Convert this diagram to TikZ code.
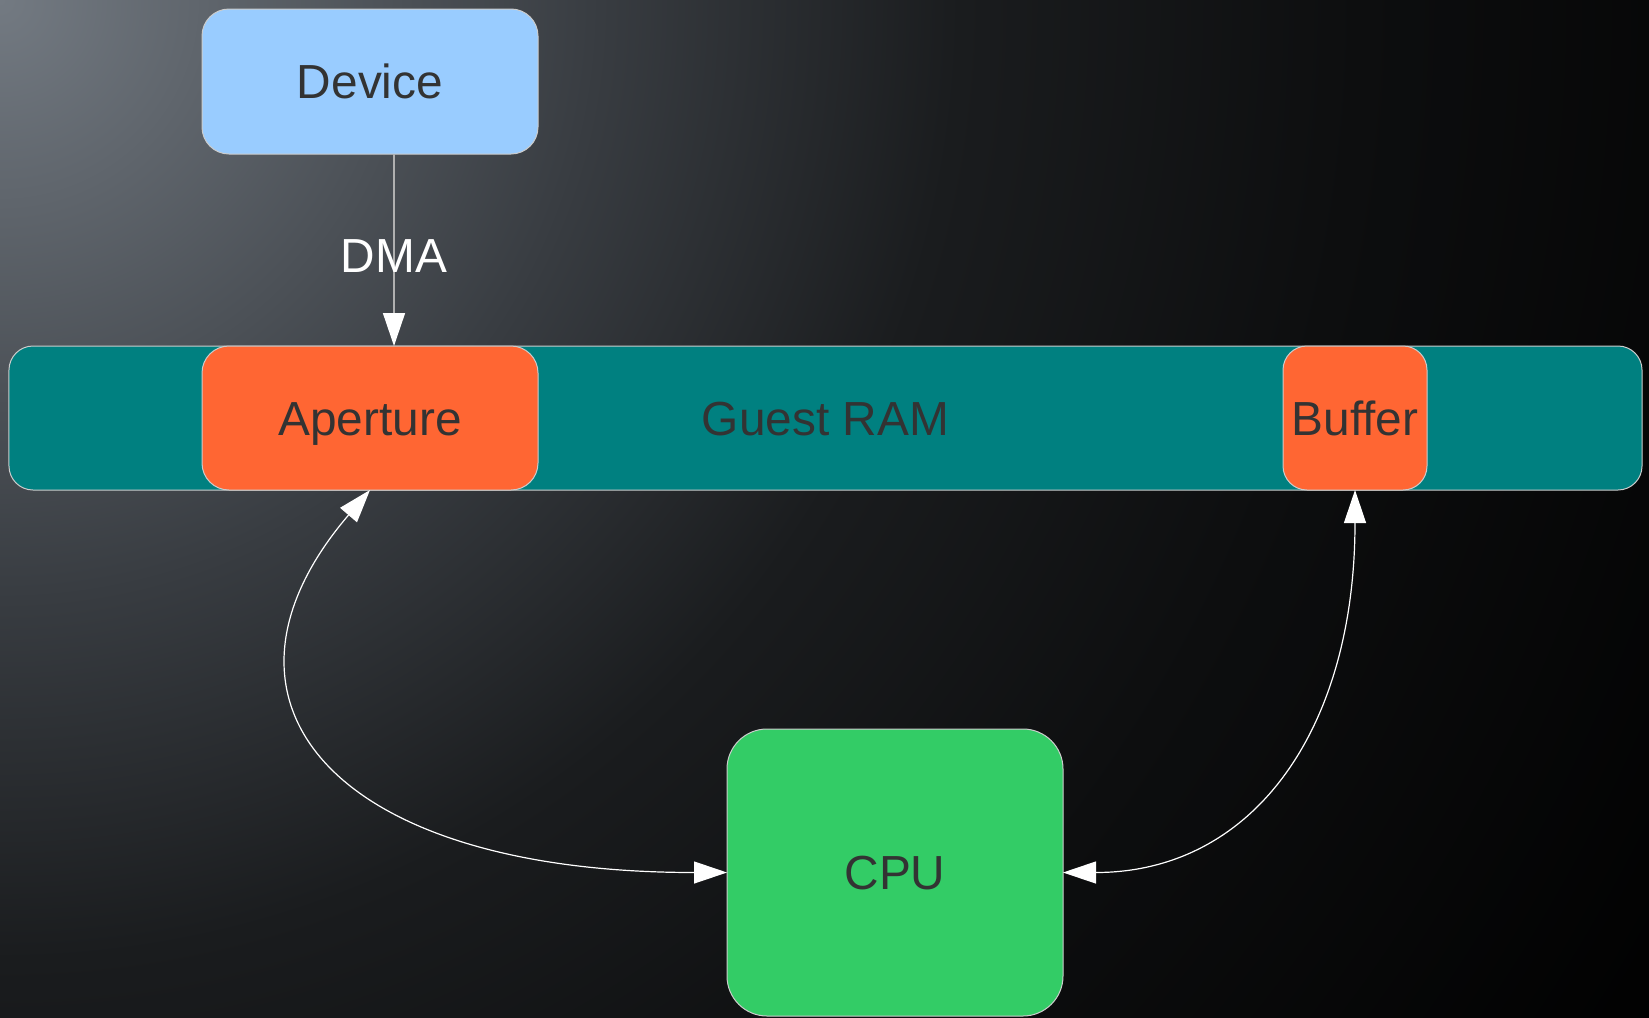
\documentclass[tikz,border=0pt]{standalone}
\usepackage{fontspec}
\setmainfont{Liberation Sans}
\usetikzlibrary{arrows.meta}
\definecolor{bgA}{HTML}{737A82}
\definecolor{bgB}{HTML}{383C41}
\definecolor{bgC}{HTML}{1A1C1E}
\definecolor{bgD}{HTML}{0D0E0F}
\definecolor{devblue}{HTML}{99CCFF}
\definecolor{orangebox}{HTML}{FF6633}
\definecolor{ramteal}{HTML}{008080}
\definecolor{cpugreen}{HTML}{33CC66}
\definecolor{textgray}{HTML}{333333}
\definecolor{bordergray}{HTML}{CCCCCC}
\definecolor{dmagray}{HTML}{B0B0B0}
\pgfdeclareradialshading{bgshade}{\pgfpointorigin}{color(0bp)=(bgA); color(7.5bp)=(bgB); color(12bp)=(bgC); color(17bp)=(bgD); color(25bp)=(black); color(50bp)=(black)}
\begin{document}
\begin{tikzpicture}[x=1bp,y=-1bp,
  box/.style={draw=bordergray, line width=1bp, inner sep=0pt, outer sep=0pt,
    font=\fontsize{48}{58}\selectfont, text=textgray, text height=34bp, text depth=0pt},
  conn/.style={draw=white, line width=1.2bp, {Triangle[length=33bp,width=22bp,color=white,fill=white]}-{Triangle[length=33bp,width=22bp,color=white,fill=white]}},
  dmaline/.style={draw=dmagray, line width=1.5bp, -{Triangle[length=33bp,width=22bp,color=white,fill=white]}},
  lbl/.style={font=\fontsize{48}{58}\selectfont, text=white, inner sep=0pt, text height=34bp, text depth=0pt}]
\useasboundingbox (0,0) rectangle (1649,1017);
\begin{scope}
  \clip (0,0) rectangle (1649,1017);
  \shade[shading=bgshade] (-2000,-2000) rectangle (2000,2000);
\end{scope}
\node[box, fill=ramteal, minimum width=1633bp, minimum height=144bp, rounded corners=24bp] (ram) at (825.5,418) {Guest RAM};
\node[box, fill=orangebox, minimum width=336bp, minimum height=144bp, rounded corners=27bp] (aperture) at (370,418) {Aperture};
\node[box, fill=orangebox, minimum width=144bp, minimum height=144bp, rounded corners=24bp] (buffer) at (1355,418) {Buffer};
\node[box, fill=devblue, minimum width=336bp, minimum height=145bp, rounded corners=27bp] (device) at (370,81.5) {Device};
\node[box, fill=cpugreen, minimum width=336bp, minimum height=287bp, rounded corners=40bp] (cpu) at (895,872.5) {CPU};
\draw[dmaline] ([xshift=24bp]device.south) -- ([xshift=24bp]aperture.north) node[pos=0.53, lbl] (dma) {DMA};
\draw[conn] (cpu.west) .. controls +(-397,0) and +(-180,210) .. (aperture.south);
\draw[conn] (cpu.east) .. controls +(190,0) and +(0,240) .. (buffer.south);
\end{tikzpicture}
\end{document}
